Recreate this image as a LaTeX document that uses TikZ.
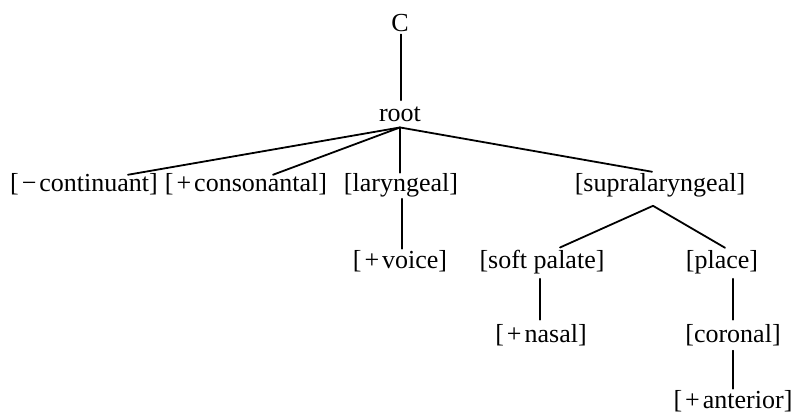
\documentclass[tikz,border=0pt]{standalone}
\usepackage{fontspec}
\setmainfont{Liberation Serif}
\newfontfamily\treefont{Liberation Serif}
\usetikzlibrary{calc}
\newcommand{\opgap}{\kern3pt}
\begin{document}
\begin{tikzpicture}[x=1pt,y=-1pt,
  feat/.style={anchor=base, inner sep=0pt, font=\treefont\fontsize{26}{30}\selectfont},
  branch/.style={line width=1.8pt, line cap=round}]
\useasboundingbox (0,0) rectangle (794,414);

% feature tree nodes (positions are baselines)
\node[feat] (c)      at (400,32)  {C};
\node[feat] (root)   at (400,122) {root};
\node[feat] (cont)   at (84,191)  {[\opgap−\opgap{}continuant]};
\node[feat] (cons)   at (246,191) {[\opgap+\opgap{}consonantal]};
\node[feat] (lar)    at (401,191) {[laryngeal]};
\node[feat] (supra)  at (660,191) {[supralaryngeal]};
\node[feat] (voice)  at (400,268) {[\opgap+\opgap{}voice]};
\node[feat] (soft)   at (542,268) {[soft palate]};
\node[feat] (place)  at (722,268) {[place]};
\node[feat] (nasal)  at (541,342) {[\opgap+\opgap{}nasal]};
\node[feat] (cor)    at (733,342) {[coronal]};
\node[feat] (ant)    at (733,408) {[\opgap+\opgap{}anterior]};

% branches
\coordinate (rootapex)  at ($(root.south)+(0,5)$);
\coordinate (supraapex) at ($(supra.south)+(-7,9)$);

\draw[branch] ($(c.south)+(1,2)$) -- ($(root.north)+(1,-7)$);
\draw[branch] (rootapex) -- ($(cont.north)+(44,2)$);
\draw[branch] (rootapex) -- ($(cons.north)+(27,2)$);
\draw[branch] (rootapex) -- ($(lar.north)+(-1,0)$);
\draw[branch] (rootapex) -- ($(supra.north)+(-8,-1)$);
\draw[branch] ($(lar.south)+(1,2)$) -- ($(voice.north)+(2,-1)$);
\draw[branch] (supraapex) -- ($(soft.north)+(18,-2)$);
\draw[branch] (supraapex) -- ($(place.north)+(3,-2)$);
\draw[branch] ($(soft.south)+(-2,5)$) -- ($(nasal.north)+(-1,-4)$);
\draw[branch] ($(place.south)+(11,5)$) -- ($(cor.north)+(0,-4)$);
\draw[branch] ($(cor.south)+(0,5)$) -- ($(ant.north)+(0,-1)$);
\end{tikzpicture}
\end{document}
